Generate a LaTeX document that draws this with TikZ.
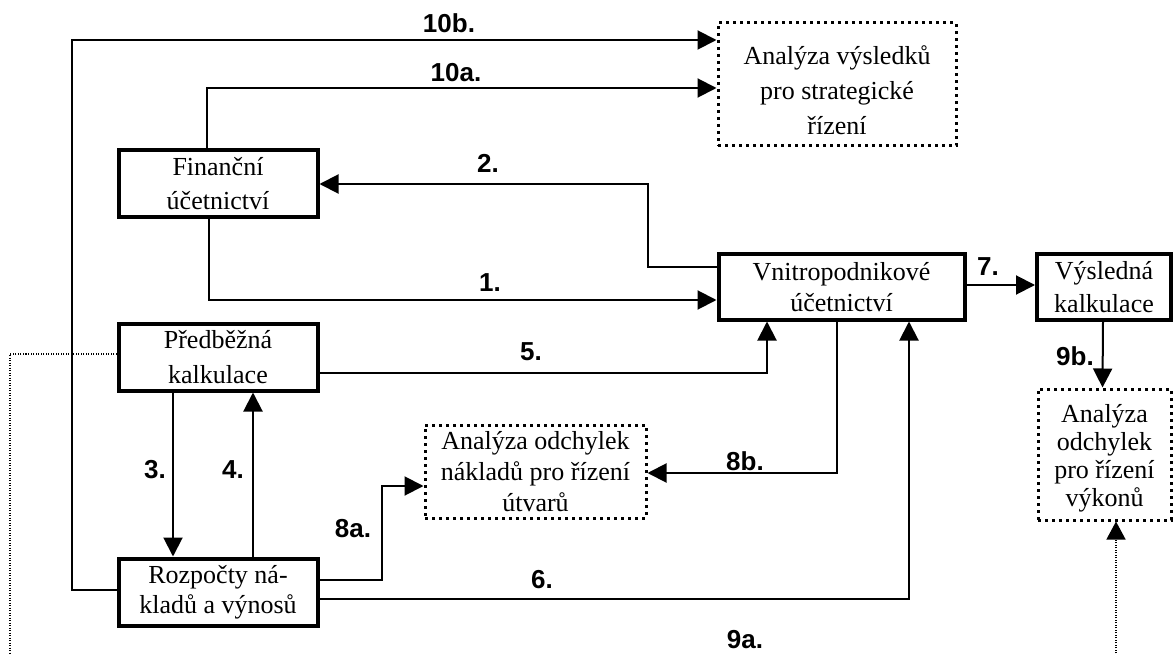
\documentclass[tikz,border=0pt]{standalone}
\usepackage{fontspec}
\setmainfont{Liberation Serif}
\newfontfamily\labfont{Liberation Sans}
\usetikzlibrary{arrows.meta}

\tikzset{
  solidbox/.style={draw=black, line width=4pt, fill=white, inner sep=0pt,
    align=center, font=\fontsize{26}{#1}\selectfont},
  dotbox/.style={draw=black, line width=3pt, dash pattern=on 3pt off 4pt,
    fill=white, inner sep=0pt, align=center, font=\fontsize{26}{#1}\selectfont},
  arr/.style={line width=2pt, -{Triangle[length=19pt,width=19pt]}},
  dotarr/.style={line width=1.3pt, dash pattern=on 1pt off 1.5pt,
    -{Triangle[length=18pt,width=19pt]}},
  steplabel/.style={font=\labfont\bfseries\fontsize{26}{30}\selectfont, inner sep=0pt}
}

\begin{document}
\begin{tikzpicture}[x=1pt,y=-1pt]
  \path[use as bounding box] (0,0) rectangle (1173,655);
  \fill[white] (0,0) rectangle (1173,655);
  \clip (0,0) rectangle (1173,655);

  % boxes
  \node[solidbox=34, minimum width=199pt, minimum height=67pt] (fin) at (218,184)
    {Finanční\\účetnictví};
  \node[solidbox=35, minimum width=199pt, minimum height=67pt] (pred) at (218,357)
    {Předběžná\\kalkulace};
  \node[solidbox=30, minimum width=199pt, minimum height=67pt] (rozp) at (218,592)
    {Rozpočty ná-\\kladů a výnosů};
  \node[solidbox=31, minimum width=246pt, minimum height=65pt] (vnit) at (841.5,287)
    {Vnitropodnikové\\účetnictví};
  \node[solidbox=33, minimum width=134pt, minimum height=65pt] (vysl) at (1104,287)
    {Výsledná\\kalkulace};
  \node[dotbox=35, minimum width=238pt, minimum height=123pt] (anvys) at (837,84.5)
    {\rule{0pt}{30pt}Analýza výsledků\\pro strategické\\řízení};
  \node[dotbox=31, minimum width=221pt, minimum height=93pt] (anodch) at (535.5,471.5)
    {Analýza odchylek\\nákladů pro řízení\\útvarů};
  \node[dotbox=28, minimum width=133pt, minimum height=131pt] (anvyk) at (1104.5,454.5)
    {\rule{0pt}{25pt}Analýza\\odchylek\\pro řízení\\výkonů};

  % connectors
  \draw[arr] ([xshift=-9pt]fin.south) |- ([yshift=-13pt]vnit.west);
  \draw[arr] ([yshift=20pt]vnit.west) -- ++(-69,0) |- (fin.east);
  \draw[arr] ([xshift=-11pt]fin.north) |- ([yshift=-3.5pt]anvys.west);
  \draw[arr] ([yshift=2pt]rozp.west) -- ++(-45,0) |- ([yshift=44.5pt]anvys.west);
  \draw[arr] ([yshift=-16pt]pred.east) -| ([xshift=-74.5pt]vnit.south);
  \draw[arr] ([xshift=-45pt]pred.south) -- ([xshift=-45pt]rozp.north);
  \draw[arr] ([xshift=35pt]rozp.north) -- ([xshift=35pt]pred.south);
  \draw[arr] ([yshift=-7pt]rozp.east) -| ([xshift=67.5pt]vnit.south);
  \draw[arr] ([yshift=12pt]rozp.east) -- ++(62,0) |- ([yshift=-14.5pt]anodch.west);
  \draw[arr] ([xshift=-4.5pt]vnit.south) |- ([yshift=-1.5pt]anodch.east);
  \draw[arr] ([yshift=2pt]vnit.east) -- ([yshift=2pt]vysl.west);
  \draw[arr] ([xshift=-1pt]vysl.south) -- ([xshift=-2pt]anvyk.north);
  \coordinate (lowpass) at (10,685);
  \draw[dotarr] ([yshift=3pt]pred.west) -| (lowpass) -| ([xshift=11.5pt]anvyk.south);

  % step labels
  \node[steplabel] (l10b) at (449,23) {10b.};
  \node[steplabel] (l10a) at (456,73) {10a.};
  \node[steplabel] (l2) at (488,163) {2.};
  \node[steplabel] (l1) at (490,283) {1.};
  \node[steplabel] (l5) at (531,352) {5.};
  \node[steplabel] (l7) at (988,267) {7.};
  \node[steplabel] (l9b) at (1075,356) {9b.};
  \node[steplabel] (l3) at (155,470) {3.};
  \node[steplabel] (l4) at (233,470) {4.};
  \node[steplabel] (l8b) at (745,461) {8b.};
  \node[steplabel] (l8a) at (353,529) {8a.};
  \node[steplabel] (l6) at (542,580) {6.};
  \node[steplabel] (l9a) at (745,640) {9a.};
\end{tikzpicture}
\end{document}
